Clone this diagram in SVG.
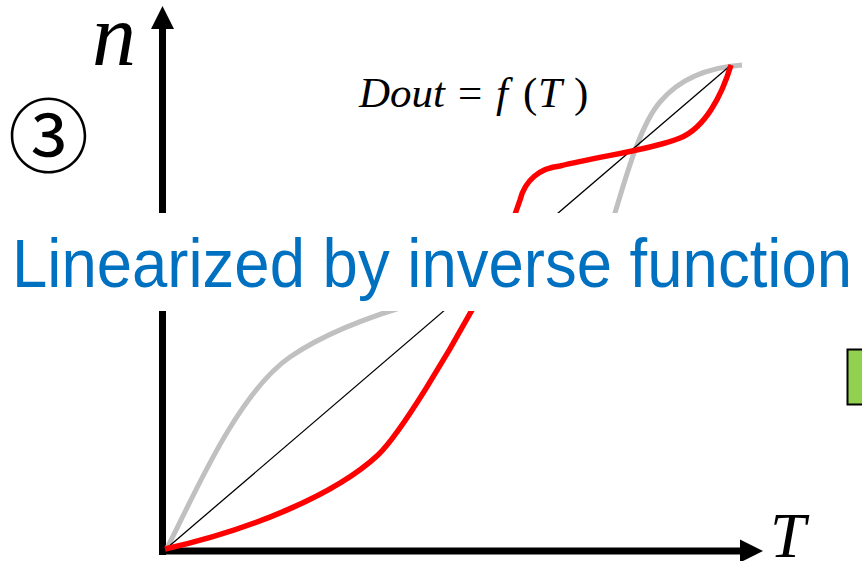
<svg xmlns="http://www.w3.org/2000/svg" width="862" height="561" viewBox="0 0 862 561">
<style>
.axis{stroke:#000;stroke-width:7;fill:none}
.curve{fill:none;stroke-linecap:butt;stroke-linejoin:round}
.times{font-family:"Liberation Serif","Times New Roman",serif;fill:#000}
</style>
<rect width="862" height="561" fill="#fff"/>
<g id="axes">
  <line class="axis" x1="162.5" y1="26" x2="162.5" y2="555"/>
  <polygon points="162.5,6 151,29 174,29" fill="#000"/>
  <line class="axis" x1="159" y1="551" x2="743" y2="551"/>
  <polygon points="763,551 740,539.5 740,562.5" fill="#000"/>
</g>
<g id="curves">
  <path id="gray" class="curve" stroke="#C0C0C0" stroke-width="5" d="M167,548 C190,505 235,395 290,357 C325,333 370,316 420,302 C470,288 600,260 615,213 C625,180 640,125 660,102 C675,84 700,68 742,65"/>
  <line id="diag" x1="167" y1="548" x2="731" y2="65" stroke="#000" stroke-width="1.3"/>
  <path id="red" class="curve" stroke="#FF0000" stroke-width="5.5" d="M165,549 C250,530 335,495 378,455 C402,432 450,350 472,310 C490,276 505,245 520,200 C525,180 540,168 560,166 C600,156 650,150 680,138 C705,128 722,95 731,65"/>
</g>
<g id="labels">
  <text class="times" x="92" y="65" font-size="88" font-style="italic">n</text>
  <text class="times" x="770" y="557" font-size="64" font-style="italic">T</text>
  <text class="times" y="107" font-size="43"><tspan x="359" font-style="italic">Dout</tspan><tspan x="458">=</tspan><tspan x="496" font-style="italic">f</tspan><tspan x="523">(</tspan><tspan x="538" font-style="italic">T</tspan><tspan x="574">)</tspan></text>
  <text x="48.5" y="166" font-size="81" text-anchor="middle" font-family="'Noto Sans CJK JP','DejaVu Sans',sans-serif" fill="#000">③</text>
</g>
<g id="banner">
  <rect x="0" y="213" width="862" height="98" fill="#fff"/>
  <text x="12" y="287" font-size="68" textLength="840" lengthAdjust="spacingAndGlyphs" font-family="'Liberation Sans',Arial,sans-serif" fill="#0070C0">Linearized by inverse function</text>
</g>
<g id="green-box">
  <rect x="847.5" y="349.5" width="30" height="55" fill="#92D050" stroke="#000" stroke-width="2"/>
</g>
</svg>
